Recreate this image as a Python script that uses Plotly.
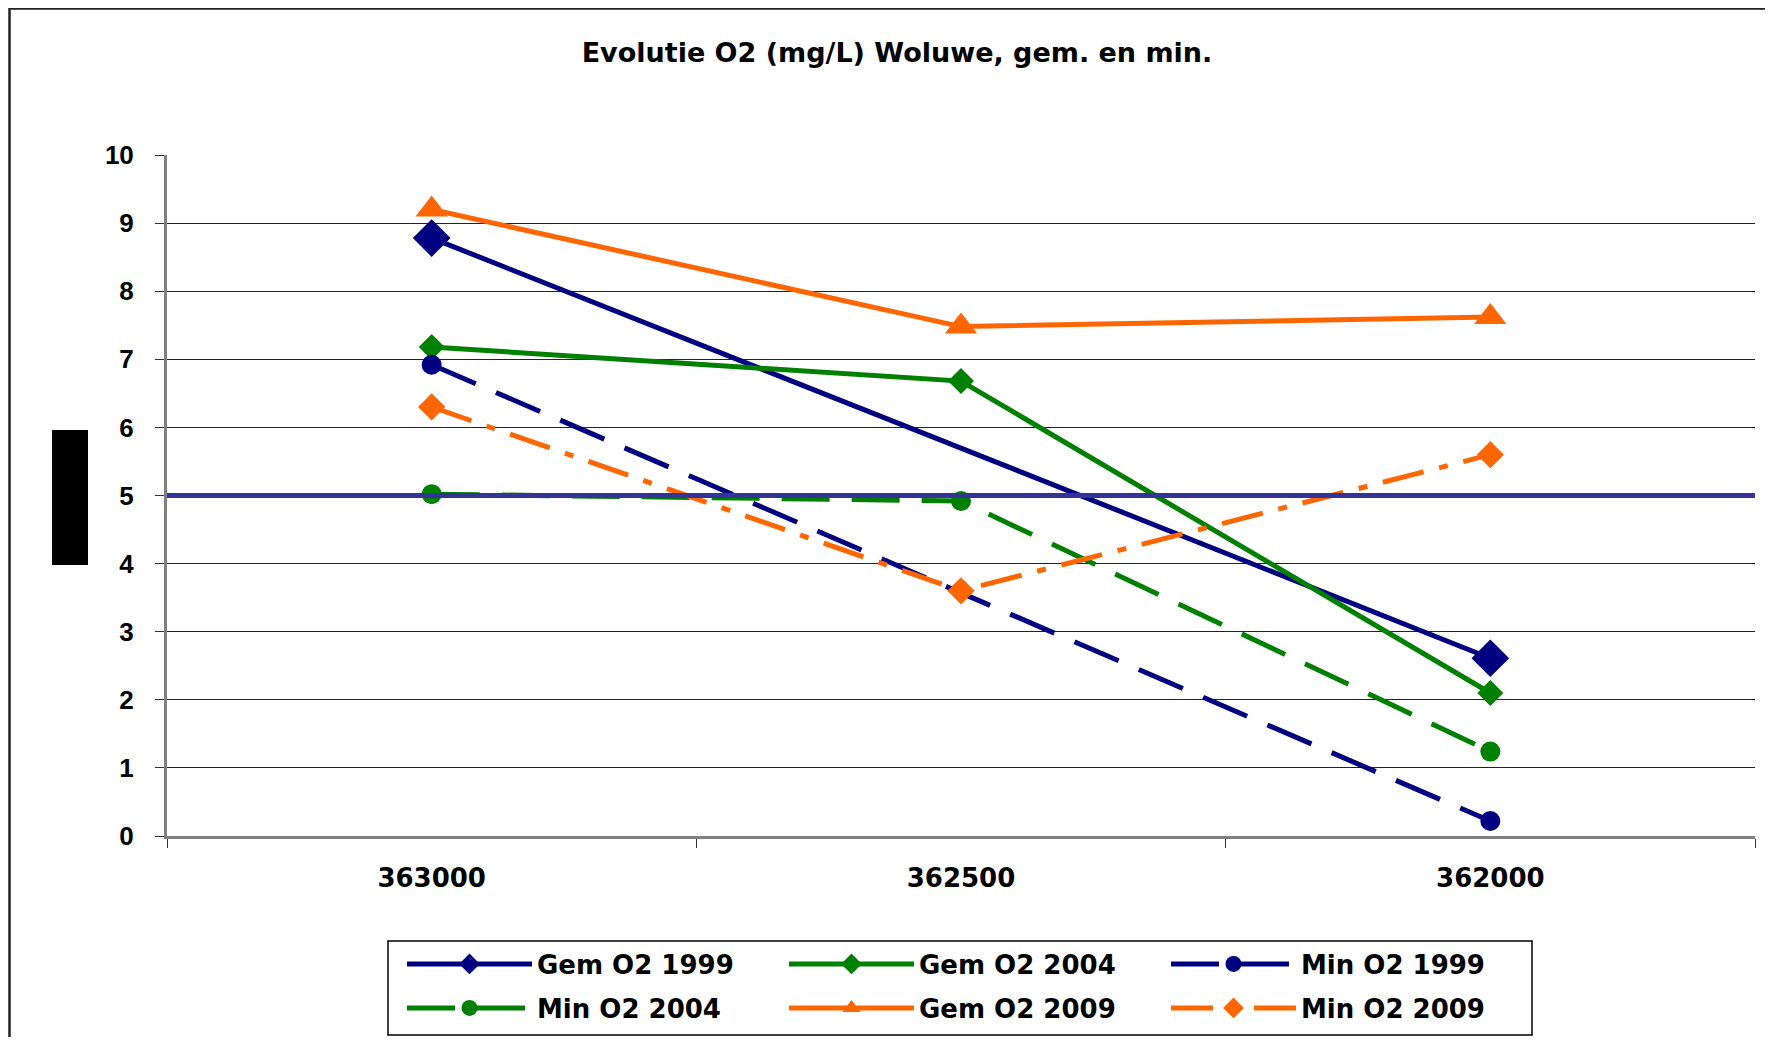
import plotly.graph_objects as go

categories = ["363000", "362500", "362000"]
gem_1999 = [8.78, None, 2.61]
gem_2004 = [7.18, 6.68, 2.1]
min_1999 = [6.92, None, 0.22]
min_2004 = [5.02, 4.92, 1.24]
gem_2009 = [9.2, 7.48, 7.62]
min_2009 = [6.3, 3.6, 5.6]
norm_value = 5
y_ticks = list(range(0, 11))

OFF = 8  # page body margin
W, H = 1773 - 2 * OFF, 1045 - 2 * OFF
# plot area in page pixels: x 167..1755, y 155..836
L, T = 167 - OFF, 155 - OFF
R = W - (1755 - OFF)
B = H - (836 - OFF)
PW, PH = W - L - R, H - T - B

def px(x):  # page x -> paper
    return (x - OFF - L) / PW

def py(y):  # page y -> paper
    return (H - B - (y - OFF)) / PH

NAVY = "#000080"
GREEN = "#008000"
ORANGE = "#FF6600"
FONT = "DejaVu Sans"
FONT2 = "Liberation Sans"

series = [
    dict(name="Gem O2 1999", y=gem_1999, color=NAVY, dash="solid", symbol="diamond", size=29, legend="legend"),
    dict(name="Gem O2 2004", y=gem_2004, color=GREEN, dash="solid", symbol="diamond", size=20, legend="legend"),
    dict(name="Min O2 1999", y=min_1999, color=NAVY, dash="48px,22px", symbol="circle", size=20, legend="legend"),
    dict(name="Min O2 2004", y=min_2004, color=GREEN, dash="48px,22px", symbol="circle", size=20, legend="legend2"),
    dict(name="Gem O2 2009", y=gem_2009, color=ORANGE, dash="solid", symbol="triangle-up", size=28, legend="legend2"),
    dict(name="Min O2 2009", y=min_2009, color=ORANGE, dash="42px,16px,9px,16px", symbol="diamond", size=21, legend="legend2"),
]

fig = go.Figure()
for s in series:
    fig.add_trace(go.Scatter(
        x=categories, y=s["y"], name=s["name"], mode="lines+markers",
        connectgaps=True,
        line=dict(color=s["color"], width=5, dash=s["dash"]),
        marker=dict(symbol=s["symbol"], size=s["size"], color=s["color"], line=dict(width=0)),
        legend=s["legend"],
    ))

legend_common = dict(
    orientation="h", xanchor="left", yanchor="middle",
    font=dict(family=FONT, size=26, color="black", weight="bold"),
    bgcolor="rgba(0,0,0,0)", borderwidth=0,
    entrywidth=242, entrywidthmode="pixels", itemwidth=125,
)

fig.update_layout(
    width=W, height=H,
    margin=dict(l=L, r=R, t=T, b=B, autoexpand=False),
    paper_bgcolor="white", plot_bgcolor="white",
    title=dict(text="Evolutie O2 (mg/L) Woluwe, gem. en min.",
               x=(897 - OFF) / W, xanchor="center", y=1 - (53 - OFF) / H, yanchor="middle",
               xref="container", yref="container",
               font=dict(family=FONT, size=27, color="black", weight="bold")),
    xaxis=dict(type="category", range=[-0.5, 2.5], tickson="boundaries",
               ticks="outside", ticklen=9, tickwidth=1, tickcolor="#333",
               showline=True, linecolor="#808080", linewidth=3,
               showgrid=False, zeroline=False, ticklabelstandoff=17,
               tickfont=dict(family=FONT, size=26, color="black", weight="bold")),
    yaxis=dict(range=[0, 10], tickvals=y_ticks, ticks="outside", ticklen=9,
               tickwidth=1, tickcolor="#333",
               showline=True, linecolor="#808080", linewidth=3,
               showgrid=True, gridcolor="#222", gridwidth=1, zeroline=False,
               ticklabelstandoff=16,
               tickfont=dict(family=FONT2, size=26, color="black", weight="bold")),
    legend=dict(x=px(402), y=py(964), **legend_common),
    legend2=dict(x=px(402), y=py(1008), **legend_common),
    showlegend=True,
)

# reference line at 5 mg/L
fig.add_shape(type="line", xref="paper", yref="y", x0=0, x1=1, y0=norm_value, y1=norm_value,
              line=dict(color="#333399", width=5), layer="above")
# legend box
fig.add_shape(type="rect", xref="paper", yref="paper", x0=px(388), x1=px(1532), y0=py(1035), y1=py(941),
              line=dict(color="black", width=1.5), fillcolor="rgba(0,0,0,0)")
# outer chart frame
fig.add_shape(type="rect", xref="paper", yref="paper", x0=px(9.5), x1=px(1800), y0=py(1080), y1=py(8.5),
              line=dict(color="#222", width=2.5), fillcolor="rgba(0,0,0,0)")
# redacted axis title block
fig.add_shape(type="rect", xref="paper", yref="paper", x0=px(52), x1=px(88), y0=py(565), y1=py(430),
              line=dict(width=0), fillcolor="black")

fig.write_html("out.html")
